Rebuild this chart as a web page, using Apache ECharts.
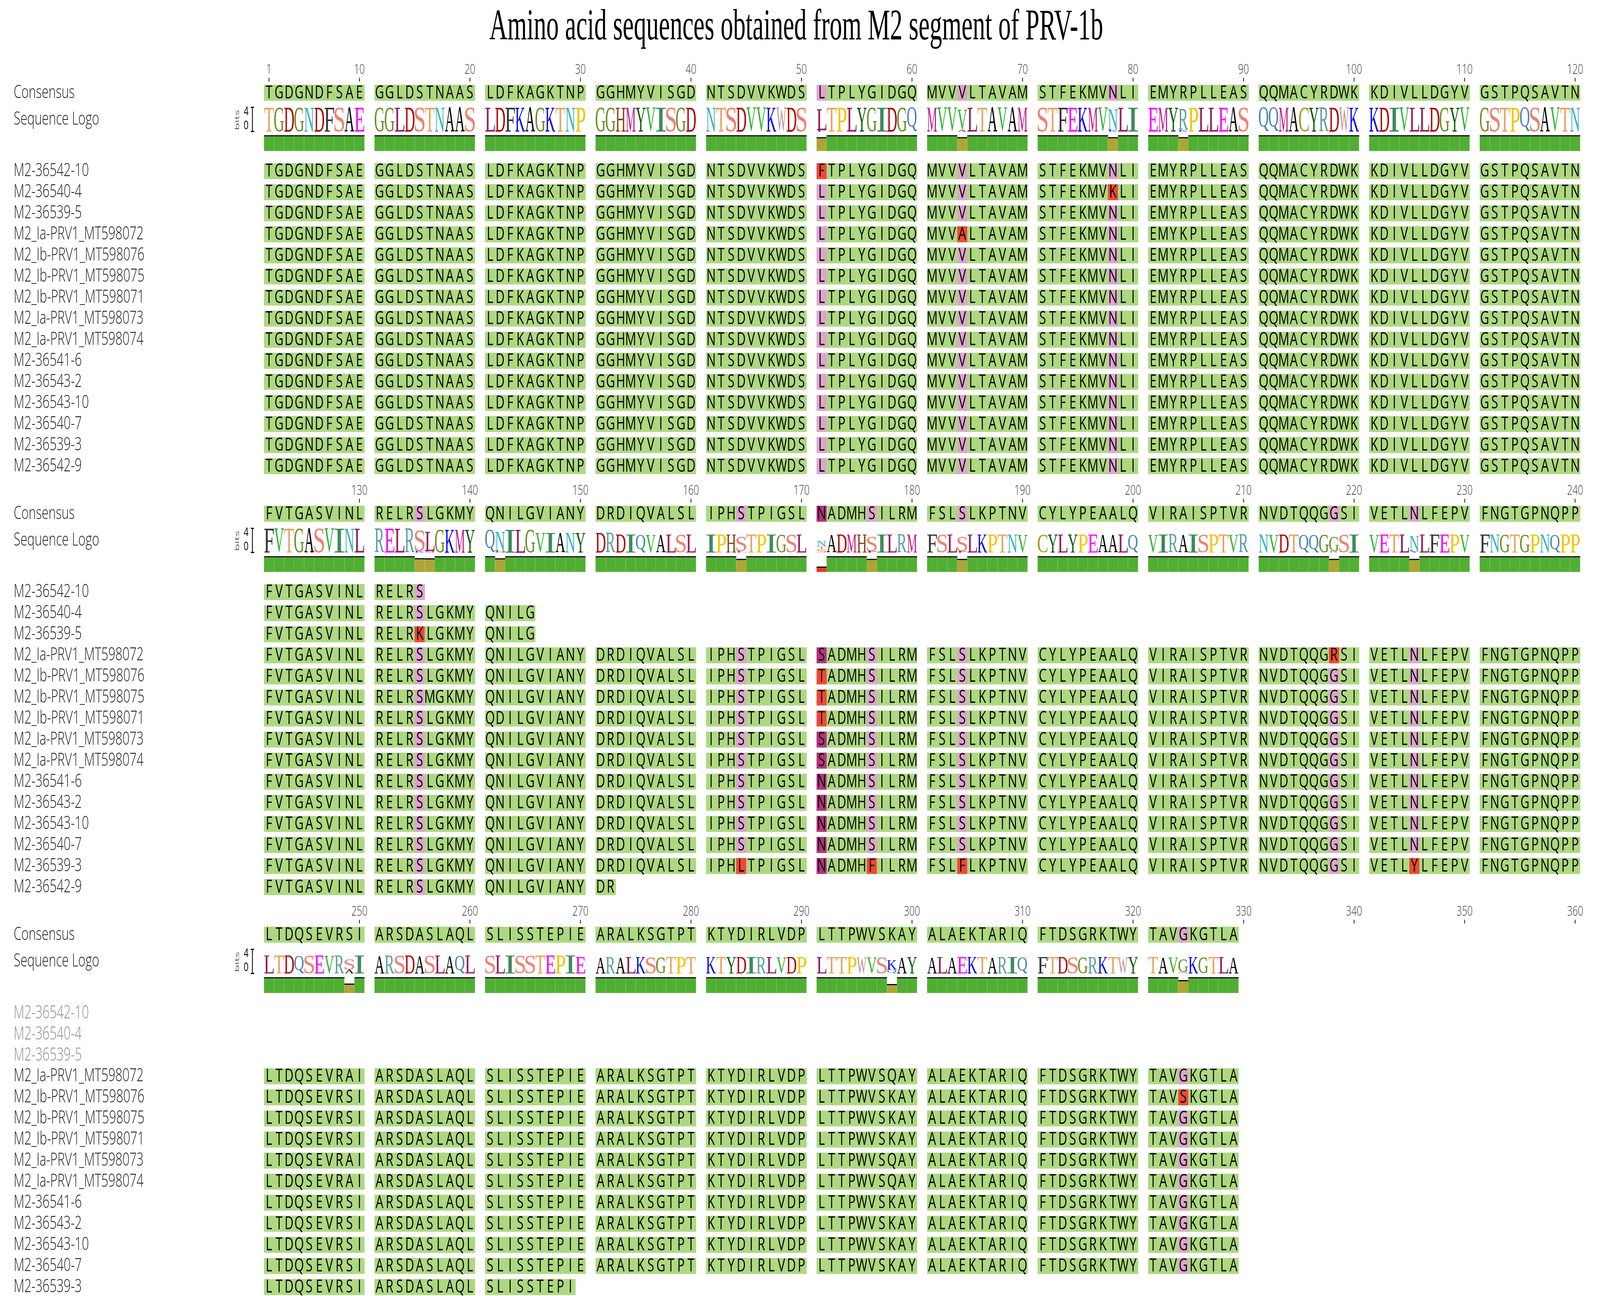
<!DOCTYPE html>
<html><head><meta charset="utf-8">
<script src="https://cdn.jsdelivr.net/npm/echarts@6/dist/echarts.min.js"></script>
<style>html,body{margin:0;padding:0;background:#fff;overflow:hidden}#c{width:100vw;height:100vh}</style>
</head><body><div id="c"></div>
<script>
// ---------------- DATA ----------------
const titleText = 'Amino acid sequences obtained from M2 segment of PRV-1b';
const consensusGroups = [
 'TGDGNDFSAE','GGLDSTNAAS','LDFKAGKTNP','GGHMYVISGD','NTSDVVKWDS','LTPLYGIDGQ',
 'MVVVLTAVAM','STFEKMVNLI','EMYRPLLEAS','QQMACYRDWK','KDIVLLDGYV','GSTPQSAVTN',
 'FVTGASVINL','RELRSLGKMY','QNILGVIANY','DRDIQVALSL','IPHSTPIGSL','NADMHSILRM',
 'FSLSLKPTNV','CYLYPEAALQ','VIRAISPTVR','NVDTQQGGSI','VETLNLFEPV','FNGTGPNQPP',
 'LTDQSEVRSI','ARSDASLAQL','SLISSTEPIE','ARALKSGTPT','KTYDIRLVDP','LTTPWVSKAY',
 'ALAEKTARIQ','FTDSGRKTWY','TAVGKGTLA'
];
const seqNames = [
 'M2-36542-10','M2-36540-4','M2-36539-5','M2_Ia-PRV1_MT598072','M2_Ib-PRV1_MT598076',
 'M2_Ib-PRV1_MT598075','M2_Ib-PRV1_MT598071','M2_Ia-PRV1_MT598073','M2_Ia-PRV1_MT598074',
 'M2-36541-6','M2-36543-2','M2-36543-10','M2-36540-7','M2-36539-3','M2-36542-9'
];
// last residue position present in each sequence
const seqEnds = [135,145,145,329,329,329,329,329,329,329,329,329,329,269,152];
// [sequence index, position, residue, cell highlight]
const variants = [
 [0,51,'F','red'],[1,78,'K','red'],[2,135,'K','red'],
 [3,64,'A','red'],[3,84,'K','green'],[3,171,'S','magenta'],[3,218,'R','red'],[3,249,'A','green'],[3,298,'Q','green'],
 [4,171,'T','red'],[4,324,'S','red'],
 [5,136,'M','green'],[5,171,'T','red'],
 [6,142,'D','green'],[6,171,'T','red'],
 [7,171,'S','magenta'],[7,249,'A','green'],[7,298,'Q','green'],
 [8,171,'S','magenta'],[8,249,'A','green'],[8,298,'Q','green'],
 [13,164,'L','red'],[13,176,'F','red'],[13,184,'F','red'],[13,225,'Y','red']
];
// highlight of residues agreeing with consensus in variable columns
const columnClass = [[51,'pink'],[64,'pink'],[78,'pink'],[135,'pink'],[164,'pink'],[171,'magenta'],
 [176,'pink'],[184,'pink'],[218,'pink'],[225,'pink'],[324,'pink']];
const rulerTicks = [1,10,20,30,40,50,60,70,80,90,100,110,120,
 130,140,150,160,170,180,190,200,210,220,230,240,
 250,260,270,280,290,300,310,320,330,340,350,360];
const logoAxisLabels = ['4','0'];

// ---------------- STYLE / LAYOUT (reference pixel units) ----------------
const W = 5948, H = 3319;
const COL_PX = 37.35, ROW_PX = 53.96, X0_PX = 1000, Y0_PX = 237.5;
const BLOCK_ROWS = 19.98, SEQ_OFFSET = 3.72, PER_BLOCK = 120;
const CELL_H = 0.76;
const LOGO_BASE = 1.838, BIT_ROWS = (61.7 / Math.log2(20)) / ROW_PX;
const BAR_TOP = 2.072, BAR_BOTTOM = 2.765;
const NAME_X = (51 - X0_PX) / COL_PX;
const TITLE_X = (2960 - X0_PX) / COL_PX, TITLE_Y = (72 - Y0_PX) / ROW_PX;
const CELL_COLORS = {green:'#ADD880', pink:'#DDA5CD', magenta:'#B3327F', red:'#EF4836'};
const LOGO_COLORS = {A:'#000000',C:'#A89A1C',D:'#B00000',E:'#FF00FF',F:'#333333',G:'#6B8E23',H:'#8B4513',
 I:'#3D8B5C',K:'#0000FF',L:'#961E5A',M:'#C71585',N:'#3AB3BA',P:'#F5C400',Q:'#4682B4',R:'#5F9EA0',
 S:'#F08070',T:'#EDA05F',V:'#2DB22D',W:'#BC8F8F',Y:'#0E5E0E'};
const BAR_COLORS = {full:'#50AF32', mid:'#AFA537', low:'#EC3420'};

// ---------------- HELPERS ----------------
const el = document.getElementById('c');
const kx = el.clientWidth / W, ky = el.clientHeight / H; // screen px per reference px
const sxText = kx / ky;                                   // horizontal text squeeze to keep reference proportions
const consensus = consensusGroups.join('');
const colClassMap = Object.fromEntries(columnClass);
const varMap = {};
variants.forEach(([s,p,r,c]) => { varMap[s+':'+p] = {r, c}; });
const blockOf = p => Math.floor((p - 1) / PER_BLOCK);
const colOf = p => { const i = (p - 1) % PER_BLOCK; return i + Math.floor(i / 10); };
const residueAt = (s, p) => (varMap[s+':'+p] ? varMap[s+':'+p].r : consensus[p-1]);

const cellItems = [];
for (let p = 1; p <= consensus.length; p++) {
  cellItems.push({x: colOf(p), y: blockOf(p)*BLOCK_ROWS, ch: consensus[p-1],
    fill: CELL_COLORS[colClassMap[p] || 'green']});
}
seqNames.forEach((nm, s) => {
  for (let p = 1; p <= seqEnds[s]; p++) {
    const v = varMap[s+':'+p];
    cellItems.push({x: colOf(p), y: blockOf(p)*BLOCK_ROWS + SEQ_OFFSET + s,
      ch: v ? v.r : consensus[p-1], fill: CELL_COLORS[v ? v.c : (colClassMap[p] || 'green')]});
  }
});

const logoItems = [], barItems = [];
for (let p = 1; p <= consensus.length; p++) {
  const counts = {}; let n = 0;
  seqNames.forEach((nm, s) => { if (p <= seqEnds[s]) { const r = residueAt(s,p); counts[r] = (counts[r]||0) + 1; n++; } });
  let Hs = 0, same = 0;
  Object.values(counts).forEach(c => { const f = c/n; Hs -= f*Math.log2(f); same += c*(c-1)/2; });
  const info = (Math.log2(20) - Hs) * n / seqNames.length;
  const stack = Object.entries(counts).sort((a,b) => a[1]-b[1]).map(([ch,c]) => ({ch, bits: info*c/n}));
  const ident = n > 1 ? same / (n*(n-1)/2) : 1;
  const b = blockOf(p);
  logoItems.push({x: colOf(p), y: b*BLOCK_ROWS + LOGO_BASE, stack});
  barItems.push({x: colOf(p), y: b*BLOCK_ROWS + BAR_BOTTOM, ident,
    color: ident >= 0.9999 ? BAR_COLORS.full : (ident >= 0.3 ? BAR_COLORS.mid : BAR_COLORS.low)});
}

const nameItems = [];
for (let b = 0; b < 3; b++) {
  nameItems.push({y: b*BLOCK_ROWS, text: 'Consensus', grey: false});
  nameItems.push({y: b*BLOCK_ROWS + 1.27, text: 'Sequence Logo', grey: false});
  seqNames.forEach((nm, s) => nameItems.push({y: b*BLOCK_ROWS + SEQ_OFFSET + s, text: nm, grey: seqEnds[s] < b*PER_BLOCK + 1}));
}
const rulerItems = rulerTicks.map(t => ({x: colOf(t), y: blockOf(t)*BLOCK_ROWS, text: String(t)}));

// glyph measurement for stretched logo letters
const mctx = document.createElement('canvas').getContext('2d');
const GF = 200;
mctx.font = GF + 'px "Liberation Serif"';
mctx.textAlign = 'center'; mctx.textBaseline = 'middle';
const gcache = {};
function gm(ch) {
  if (!gcache[ch]) { const m = mctx.measureText(ch);
    gcache[ch] = {l: m.actualBoundingBoxLeft, r: m.actualBoundingBoxRight, a: m.actualBoundingBoxAscent, d: m.actualBoundingBoxDescent}; }
  return gcache[ch];
}
function stretched(ch, x0, x1, y0, y1, fill) {
  const g = gm(ch);
  const sx = (x1 - x0) / (g.l + g.r), sy = (y1 - y0) / (g.a + g.d);
  return {type:'text', x: x0 + g.l*sx, y: y0 + g.a*sy, scaleX: sx, scaleY: sy,
    style: {text: ch, fontSize: GF, fontFamily: 'Liberation Serif', fill, align: 'center', verticalAlign: 'middle'}};
}
const txt = (x, y, text, size, family, fill, align, weight) => ({type:'text', x, y, scaleX: sxText,
  style: {text, fontSize: size*ky, fontFamily: family, fontWeight: weight || 'normal', fill, align, verticalAlign: 'middle'}});

const base = {type:'custom', coordinateSystem:'cartesian2d', silent:true, animation:false, clip:false, progressive: 0};
const option = {
  backgroundColor: '#ffffff',
  animation: false,
  grid: {left: 0, right: 0, top: 0, bottom: 0},
  xAxis: {type:'value', min: -X0_PX/COL_PX, max: (W - X0_PX)/COL_PX, show: false},
  yAxis: {type:'value', inverse: true, min: -Y0_PX/ROW_PX, max: (H - Y0_PX)/ROW_PX, show: false},
  series: [
    Object.assign({}, base, {name:'title', data: [[TITLE_X, TITLE_Y]],
      renderItem(params, api) {
        const p = api.coord([TITLE_X, TITLE_Y]);
        return {type:'text', x: p[0], y: p[1], scaleX: sxText*0.83,
          style: {text: titleText, fontSize: 112*ky, fontFamily: 'Liberation Serif', fill:'#000', align:'center', verticalAlign:'middle'}};
      }}),
    Object.assign({}, base, {name:'cells', data: cellItems.map(c => [c.x, c.y]),
      renderItem(params, api) {
        const c = cellItems[params.dataIndex];
        const p = api.coord([c.x, c.y]); const s = api.size([1, CELL_H]);
        return {type:'group', children:[
          {type:'rect', shape:{x: p[0]-s[0]/2, y: p[1]-s[1]/2, width: s[0]+0.6*kx, height: s[1]}, style:{fill: c.fill}},
          txt(p[0], p[1]+1*ky, c.ch, 46, 'Open Sans', '#000', 'center')
        ]};
      }}),
    Object.assign({}, base, {name:'logo', data: logoItems.map(c => [c.x, c.y]),
      renderItem(params, api) {
        const L = logoItems[params.dataIndex];
        const p = api.coord([L.x, L.y]); const w = api.size([1, 0])[0];
        const bitPx = api.size([0, BIT_ROWS])[1];
        const kids = []; let yb = p[1];
        L.stack.forEach(g => { const h = g.bits*bitPx;
          if (h > 1*ky) kids.push(stretched(g.ch, p[0]-w*0.48, p[0]+w*0.48, yb-h, yb, LOGO_COLORS[g.ch]));
          yb -= h; });
        return {type:'group', children: kids};
      }}),
    Object.assign({}, base, {name:'identity', data: barItems.map(c => [c.x, c.y]),
      renderItem(params, api) {
        const B = barItems[params.dataIndex];
        const p = api.coord([B.x, B.y]); const w = api.size([1, 0])[0];
        const h = api.size([0, (BAR_BOTTOM - BAR_TOP)*B.ident])[1];
        return {type:'group', children:[
          {type:'rect', shape:{x: p[0]-w/2, y: p[1]-h, width: w, height: h}, style:{fill: B.color, stroke:'rgba(255,255,255,0.18)', lineWidth:1*kx}},
          {type:'rect', shape:{x: p[0]-w/2, y: p[1]-h-3*ky, width: w+0.5*kx, height: 3*ky}, style:{fill:'#000'}}
        ]};
      }}),
    Object.assign({}, base, {name:'ruler', data: rulerItems.map(c => [c.x, c.y]),
      renderItem(params, api) {
        const R = rulerItems[params.dataIndex];
        const p = api.coord([R.x, R.y - 1.085]);
        const t0 = api.coord([R.x, R.y - 0.71]), t1 = api.coord([R.x, R.y - 0.53]);
        return {type:'group', children:[
          txt(p[0], p[1], R.text, 35, 'Open Sans', '#333', 'center', 300),
          {type:'line', shape:{x1: t0[0], y1: t0[1], x2: t1[0], y2: t1[1]}, style:{stroke:'#222', lineWidth: 3*kx}}
        ]};
      }}),
    Object.assign({}, base, {name:'names', data: nameItems.map(c => [NAME_X, c.y]),
      renderItem(params, api) {
        const N = nameItems[params.dataIndex];
        const p = api.coord([NAME_X, N.y]);
        return txt(p[0], p[1], N.text, 46, 'Open Sans', N.grey ? '#8c8c8c' : '#1a1a1a', 'left', 300);
      }}),
    Object.assign({}, base, {name:'logoAxis', data: [0,1,2].map(b => [-1.65, b*BLOCK_ROWS + LOGO_BASE]),
      renderItem(params, api) {
        const b = params.dataIndex, y0 = b*BLOCK_ROWS;
        const top = api.coord([-1.65, y0 + LOGO_BASE - Math.log2(20)*BIT_ROWS]);
        const bot = api.coord([-1.65, y0 + LOGO_BASE]);
        const l4 = api.coord([-2.28, y0 + 0.90]), l0 = api.coord([-2.28, y0 + 1.57]);
        const bl = api.coord([-3.13, y0 + 1.29]);
        return {type:'group', children:[
          {type:'line', shape:{x1: top[0], y1: top[1], x2: bot[0], y2: bot[1]}, style:{stroke:'#000', lineWidth:3*kx}},
          {type:'line', shape:{x1: top[0]-6*kx, y1: top[1], x2: top[0]+6*kx, y2: top[1]}, style:{stroke:'#000', lineWidth:3*ky}},
          {type:'line', shape:{x1: bot[0]-6*kx, y1: bot[1], x2: bot[0]+7*kx, y2: bot[1]}, style:{stroke:'#000', lineWidth:3*ky}},
          txt(l4[0], l4[1], logoAxisLabels[0], 31, 'Open Sans', '#000', 'center'),
          txt(l0[0], l0[1], logoAxisLabels[1], 31, 'Open Sans', '#000', 'center'),
          {type:'text', x: bl[0], y: bl[1], rotation: Math.PI/2, scaleX: 1.4, scaleY: sxText,
            style:{text:'bits', fontSize: 22*ky, fontFamily:'Open Sans', fill:'#555', align:'center', verticalAlign:'middle'}}
        ]};
      }})
  ]
};
const chart = echarts.init(el, null, {renderer:'canvas'});
chart.setOption(option);
</script>
</body></html>
